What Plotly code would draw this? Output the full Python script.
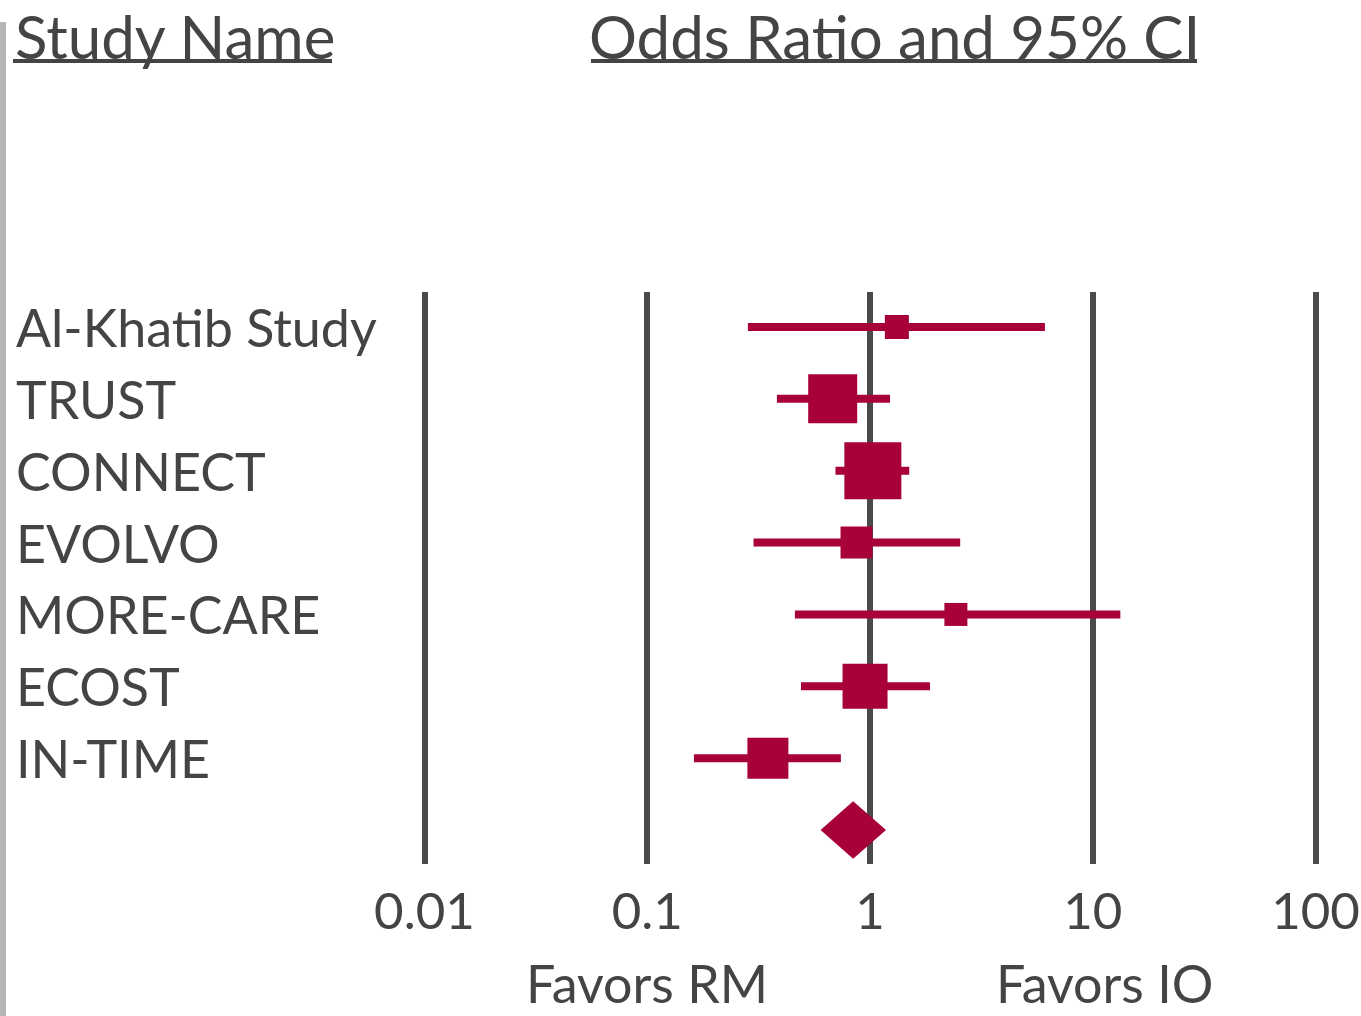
import plotly.graph_objects as go

# ---------------- data ----------------
studies = ["Al-Khatib Study", "TRUST", "CONNECT", "EVOLVO", "MORE-CARE", "ECOST", "IN-TIME"]
odds_ratio = [1.32, 0.68, 1.03, 0.87, 2.43, 0.95, 0.348]
ci_lower = [0.283, 0.382, 0.70, 0.30, 0.46, 0.49, 0.162]
ci_upper = [6.1, 1.23, 1.50, 2.54, 13.3, 1.86, 0.74]
weights = [24, 49, 57, 32, 23, 45, 41]  # relative study weight (square size)
pooled_or = 0.84
pooled_lower = 0.60
pooled_upper = 1.18
tick_values = [0.01, 0.1, 1, 10, 100]
tick_labels = ["0.01", "0.1", "1", "10", "100"]

# ---------------- style ----------------
W, H = 1361, 1016
PLOT_TOP, PLOT_BOTTOM = 292, 864
CRIMSON = "#A8003A"
TEXT = "#444444"
GRID = "#4a4a4a"
FONT = "Lato"

def py(p):  # pixel y -> paper y
    return (PLOT_BOTTOM - p) / (PLOT_BOTTOM - PLOT_TOP)

def px(p):  # pixel x -> paper x
    return p / W

row_y = list(range(len(studies)))
pooled_y = len(studies)

fig = go.Figure()

fig.add_trace(go.Scatter(
    x=odds_ratio, y=row_y, mode="markers",
    marker=dict(symbol="square", size=weights, color=CRIMSON, opacity=1, line=dict(width=0)),
    error_x=dict(type="data", symmetric=False,
                 array=[u - o for u, o in zip(ci_upper, odds_ratio)],
                 arrayminus=[o - l for o, l in zip(odds_ratio, ci_lower)],
                 color=CRIMSON, thickness=8, width=0),
    cliponaxis=False, showlegend=False, hoverinfo="skip",
))

hh = 0.40
fig.add_trace(go.Scatter(
    x=[pooled_lower, pooled_or, pooled_upper, pooled_or, pooled_lower],
    y=[pooled_y, pooled_y - hh, pooled_y, pooled_y + hh, pooled_y],
    mode="lines", fill="toself", fillcolor=CRIMSON,
    line=dict(color=CRIMSON, width=0), showlegend=False, hoverinfo="skip",
))

annotations = []
for name, y in zip(studies, row_y):
    annotations.append(dict(
        x=px(14), xref="paper", y=y, yref="y", text=name, showarrow=False,
        xanchor="left", yanchor="middle",
        font=dict(family=FONT, size=52, color=TEXT),
    ))

annotations.append(dict(x=px(13), xref="paper", y=py(36), yref="paper",
                        text="Study Name", showarrow=False, xanchor="left", yanchor="middle",
                        font=dict(family=FONT, size=60, color=TEXT)))
annotations.append(dict(x=px(894), xref="paper", y=py(36), yref="paper",
                        text="Odds Ratio and 95% CI", showarrow=False, xanchor="center", yanchor="middle",
                        font=dict(family=FONT, size=60, color=TEXT)))
annotations.append(dict(x=px(647), xref="paper", y=py(1016), yref="paper",
                        text="Favors RM", showarrow=False, xanchor="center", yanchor="bottom",
                        font=dict(family=FONT, size=52, color=TEXT)))
annotations.append(dict(x=px(1104), xref="paper", y=py(1016), yref="paper",
                        text="Favors IO", showarrow=False, xanchor="center", yanchor="bottom",
                        font=dict(family=FONT, size=52, color=TEXT)))

shapes = [
    dict(type="line", xref="paper", yref="paper", x0=px(13), x1=px(332), y0=py(61), y1=py(61),
         line=dict(color=TEXT, width=4)),
    dict(type="line", xref="paper", yref="paper", x0=px(591), x1=px(1197), y0=py(61), y1=py(61),
         line=dict(color=TEXT, width=4)),
    dict(type="rect", xref="paper", yref="paper", x0=px(0), x1=px(6), y0=py(1016), y1=py(22),
         fillcolor="#b5b5b5", line=dict(width=0), layer="above"),
]

# y mapping: row 0 at pixel 327, row spacing ~71.86 px
row0_px, row_step = 327, 71.86
y_top = (PLOT_TOP - row0_px) / row_step
y_bottom = (PLOT_BOTTOM - row0_px) / row_step
x_left = (0 - 870) / 222.75
x_right = (W - 870) / 222.75

fig.update_layout(
    width=W, height=H,
    margin=dict(l=0, r=0, t=PLOT_TOP, b=H - PLOT_BOTTOM, pad=0),
    paper_bgcolor="white", plot_bgcolor="white",
    annotations=annotations, shapes=shapes,
    xaxis=dict(type="log", range=[x_left, x_right], tickvals=tick_values, ticktext=tick_labels,
               showgrid=True, gridcolor=GRID, gridwidth=6, zeroline=False, showline=False,
               ticks="outside", ticklen=3, tickcolor="rgba(0,0,0,0)", ticklabeloverflow="allow",
               tickfont=dict(family=FONT, size=51, color=TEXT), fixedrange=True),
    yaxis=dict(range=[y_bottom, y_top], showgrid=False, zeroline=False, showline=False,
               showticklabels=False, fixedrange=True),
)

fig.write_html("out.html", config={"displayModeBar": False},
               post_script="document.body.style.margin='0';document.body.style.overflow='hidden';")
